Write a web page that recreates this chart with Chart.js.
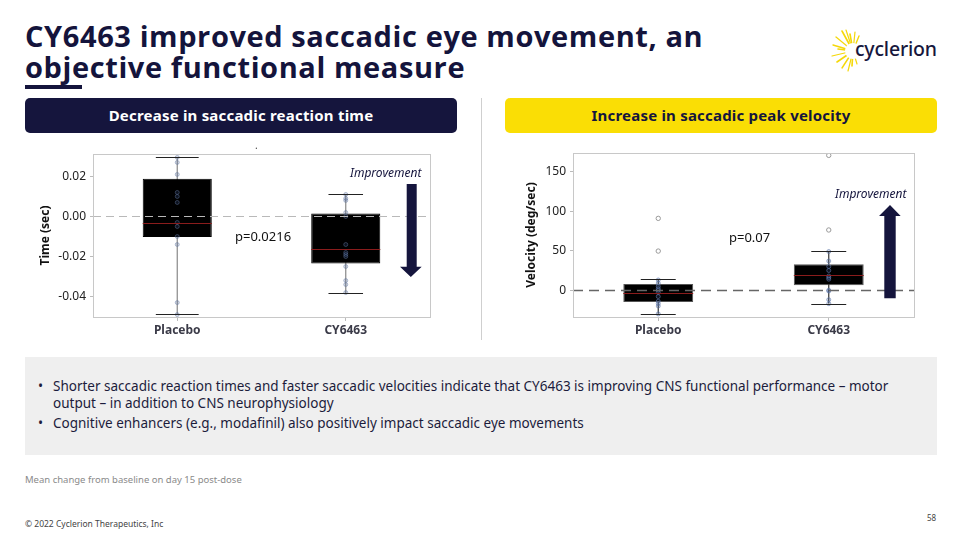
<!DOCTYPE html>
<html>
<head>
<meta charset="utf-8">
<script src="https://cdn.jsdelivr.net/npm/chart.js@4.4.0/dist/chart.umd.min.js"></script>
<style>
  body { margin: 0; width: 960px; height: 540px; background: #fff; position: relative; overflow: hidden;
         font-family: "Noto Sans", sans-serif; color: #17173d; }
  .abs { position: absolute; white-space: nowrap; }
  .title { left: 25px; top: 20px; font: 700 29px/31px "Open Sans", sans-serif; color: #14143c; letter-spacing: 0.6px; }
  .uline { left: 25px; top: 85px; width: 57px; height: 4px; background: #14143c; }
  .head { top: 98px; width: 432px; height: 35px; border-radius: 5px; font: 700 15px/35px "Noto Sans", sans-serif;
          text-align: center; letter-spacing: 0.2px; }
  .note { left: 25px; top: 357px; width: 912px; height: 98px; background: #efefef; }
  .note ul { margin: 0; padding: 0; list-style: none; position: absolute; left: 28px; top: 21px;
             font-size: 13.5px; line-height: 17px; color: #1c1c3c; }
  .note li { position: relative; margin-bottom: 3px; }
  .note li::before { content: "•"; position: absolute; left: -15px; }
  .ital { font: italic 12px "Noto Sans", sans-serif; color: #14143c; }
  .pval { font: 13px "Noto Sans", sans-serif; color: #111; }
  canvas { position: absolute; }
</style>
</head>
<body>
<div class="abs title">CY6463 improved saccadic eye movement, an<br>objective functional measure</div>
<div class="abs uline"></div>

<svg class="abs" style="left:830px;top:28px" width="110" height="46">
  <g stroke="#f5d80a" stroke-linecap="round">
    <line x1="23" y1="23" x2="12" y2="3" stroke-width="1.6"/>
    <line x1="23" y1="23" x2="16" y2="2" stroke-width="1.2"/>
    <line x1="23" y1="23" x2="20" y2="6" stroke-width="1.6"/>
    <line x1="23" y1="23" x2="25" y2="4" stroke-width="1.2"/>
    <line x1="23" y1="23" x2="29" y2="8" stroke-width="1.4"/>
    <line x1="23" y1="23" x2="6" y2="9" stroke-width="1.2"/>
    <line x1="23" y1="23" x2="3" y2="17" stroke-width="1.4"/>
    <line x1="23" y1="23" x2="8" y2="21" stroke-width="1.6"/>
    <line x1="23" y1="23" x2="2" y2="28" stroke-width="1.2"/>
    <line x1="23" y1="23" x2="7" y2="34" stroke-width="1.6"/>
    <line x1="23" y1="23" x2="12" y2="40" stroke-width="1.4"/>
    <line x1="23" y1="23" x2="18" y2="43" stroke-width="1.2"/>
    <line x1="23" y1="23" x2="22" y2="38" stroke-width="1.6"/>
    <line x1="23" y1="23" x2="27" y2="36" stroke-width="1.2"/>
  </g>
  <circle cx="23" cy="23" r="8" fill="#fff"/>
</svg>
<div class="abs" style="left:855px;top:35px;font:500 19.5px 'Noto Sans',sans-serif;color:#17173d;letter-spacing:-0.2px">cyclerion</div>

<div class="abs head" style="left:25px;background:#15153d;color:#fff">Decrease in saccadic reaction time</div>
<div class="abs head" style="left:505px;background:#fade05;color:#15153d">Increase in saccadic peak velocity</div>
<div class="abs" style="left:481px;top:98px;width:1px;height:242px;background:#cfcfcf"></div>

<canvas id="rtChart" width="440" height="205" style="left:20px;top:140px"></canvas>
<canvas id="velChart" width="440" height="205" style="left:500px;top:140px"></canvas>

<div class="abs" style="left:255px;top:138px;font-size:10px;color:#444">.</div>
<div class="abs ital" style="left:350px;top:164px">Improvement</div>
<div class="abs pval" style="left:235px;top:227px">p=0.0216</div>
<svg class="abs" style="left:398px;top:182px" width="26" height="98">
  <polygon points="8.7,2 18.7,2 18.7,84.7 23.7,84.7 12.8,95 2,84.7 8.7,84.7" fill="#15153d"/>
</svg>

<div class="abs ital" style="left:835px;top:185px">Improvement</div>
<div class="abs pval" style="left:729px;top:228px">p=0.07</div>
<svg class="abs" style="left:877px;top:203px" width="26" height="98">
  <polygon points="13,2 23.7,13 18.7,13 18.7,95.3 7.3,95.3 7.3,13 2,13" fill="#15153d"/>
</svg>

<div class="abs note">
  <ul>
    <li>Shorter saccadic reaction times and faster saccadic velocities indicate that CY6463 is improving CNS functional performance – motor<br>output – in addition to CNS neurophysiology</li>
    <li>Cognitive enhancers (e.g., modafinil) also positively impact saccadic eye movements</li>
  </ul>
</div>

<div class="abs" style="left:25px;top:473px;font-size:9.5px;color:#8a8a8a">Mean change from baseline on day 15 post-dose</div>
<div class="abs" style="left:25px;top:518px;font-size:8.5px;color:#444">© 2022 Cyclerion Therapeutics, Inc</div>
<div class="abs" style="left:927px;top:512px;font-size:8px;color:#444">58</div>

<script>
const groups = ['Placebo', 'CY6463'];

// saccadic reaction time, change from baseline (sec)
const rtQ1 = [-0.0102, -0.0235];
const rtQ3 = [0.0188, 0.0015];
const rtMedian = [-0.0032, -0.016];
const rtLow = [-0.0489, -0.0382];
const rtHigh = [0.0295, 0.011];
const rtPlacebo = [0.0295, 0.027, 0.021, 0.012, 0.010, 0.007, -0.003, -0.005, -0.010, -0.014, -0.043, -0.049];
const rtCY = [0.011, 0.009, 0.008, 0.002, 0.000, -0.014, -0.018, -0.019, -0.020, -0.025, -0.032, -0.034, -0.038];
const rtTicks = [0.02, 0, -0.02, -0.04];

// saccadic peak velocity, change from baseline (deg/sec)
const velQ1 = [-14.9, 6.4];
const velQ3 = [8.0, 33.0];
const velMedian = [-3.4, 19];
const velLow = [-29.7, -16.9];
const velHigh = [13.6, 49.2];
const velPlacebo = [13, 9, 5, 2, 0, -3, -8, -14, -17, -20, -30];
const velCY = [49, 37, 30, 25, 18, 16, 14, 0, -1, -12, -17];
const velOutPlacebo = [91, 49.6];
const velOutCY = [170.8, 76.3];
const velTicks = [0, 50, 100, 150];

// whiskers, caps, medians, zero reference and frame
const boxExtras = {
  id: 'boxExtras',
  beforeDatasetsDraw(chart, args, o) {
    const { ctx, scales: { x, y } } = chart;
    ctx.save();
    ctx.strokeStyle = o.whiskerColor;
    ctx.lineWidth = 1.2;
    o.low.forEach((lo, i) => {
      const px = x.getPixelForValue(i);
      ctx.beginPath();
      ctx.moveTo(px, y.getPixelForValue(lo));
      ctx.lineTo(px, y.getPixelForValue(o.high[i]));
      ctx.stroke();
    });
    ctx.restore();
  },
  afterDatasetsDraw(chart, args, o) {
    const { ctx, chartArea: a, scales: { y } } = chart;
    const bars = chart.getDatasetMeta(0).data;
    ctx.save();
    bars.forEach((bar, i) => {
      const half = bar.width * o.capRatio[i] / 2;
      ctx.strokeStyle = o.capColor;
      ctx.lineWidth = 1.2;
      [o.low[i], o.high[i]].forEach(v => {
        const py = Math.round(y.getPixelForValue(v)) + 0.5;
        ctx.beginPath();
        ctx.moveTo(bar.x - half, py);
        ctx.lineTo(bar.x + half, py);
        ctx.stroke();
      });
      const my = Math.round(y.getPixelForValue(o.median[i])) + 0.5;
      ctx.strokeStyle = o.medianColor;
      ctx.lineWidth = 1;
      ctx.beginPath();
      ctx.moveTo(bar.x - bar.width / 2, my);
      ctx.lineTo(bar.x + bar.width / 2, my);
      ctx.stroke();
    });
    const zy = Math.round(y.getPixelForValue(0)) + 0.5;
    ctx.setLineDash(o.zeroDash);
    ctx.strokeStyle = o.zeroColor;
    ctx.lineWidth = o.zeroWidth;
    ctx.beginPath();
    ctx.moveTo(a.left, zy);
    ctx.lineTo(a.right, zy);
    ctx.stroke();
    ctx.setLineDash([]);
    ctx.strokeStyle = o.frameColor;
    ctx.lineWidth = 1;
    ctx.strokeRect(Math.round(a.left) + 0.5, Math.round(a.top) + 0.5, Math.round(a.width), Math.round(a.height));
    ctx.restore();
  }
};

function pointSet(values, group, style) {
  return Object.assign({
    type: 'line',
    showLine: false,
    order: 1,
    data: values.map(v => ({ x: group, y: v })),
    pointRadius: 2,
    pointBorderWidth: 1
  }, style);
}

function makeBoxChart(id, s) {
  const inner = {
    pointBorderColor: s.ptBorder,
    pointBackgroundColor: 'rgba(60,90,150,0.2)'
  };
  const datasets = [
    {
      type: 'bar',
      order: 2,
      data: groups.map((g, i) => [s.q1[i], s.q3[i]]),
      backgroundColor: '#000',
      borderColor: s.boxBorder,
      borderWidth: 1,
      borderSkipped: false,
      barPercentage: 0.41,
      categoryPercentage: 1
    },
    pointSet(s.pts[0], groups[0], inner),
    pointSet(s.pts[1], groups[1], inner)
  ];
  if (s.outliers) {
    s.outliers.forEach((vals, i) => datasets.push(pointSet(vals, groups[i], {
      pointRadius: 2.2,
      pointBorderColor: '#9a9a9a',
      pointBackgroundColor: '#fff'
    })));
  }
  return new Chart(document.getElementById(id), {
    type: 'bar',
    data: { labels: groups, datasets },
    options: {
      responsive: false,
      animation: false,
      devicePixelRatio: 1,
      layout: { padding: s.padding },
      plugins: {
        legend: { display: false },
        tooltip: { enabled: false },
        boxExtras: {
          low: s.low, high: s.high, median: s.median,
          capRatio: s.capRatio,
          whiskerColor: s.whiskerColor, capColor: '#222',
          medianColor: '#8a1c1c',
          zeroColor: s.zeroColor, zeroDash: s.zeroDash, zeroWidth: s.zeroWidth,
          frameColor: '#c8c8c8'
        }
      },
      scales: {
        x: {
          grid: { offset: false, drawOnChartArea: false, drawTicks: true, tickLength: 4, color: '#bbb' },
          border: { display: false },
          ticks: { font: { family: 'Noto Sans', size: 12, weight: 'bold' }, color: '#3b3b48', padding: 2 },
          afterFit: sc => { sc.height = 28; }
        },
        y: {
          min: s.min,
          max: s.max,
          grid: { drawOnChartArea: false, drawTicks: true, tickLength: 3, color: '#bbb' },
          border: { display: false },
          afterBuildTicks: sc => { sc.ticks = s.ticks.map(v => ({ value: v })); },
          ticks: {
            font: { family: 'Noto Sans', size: 12 },
            color: '#222',
            padding: 4,
            callback: s.fmt
          },
          title: {
            display: true,
            text: s.yTitle,
            font: { family: 'Noto Sans', size: 12, weight: 'bold' },
            color: '#111',
            padding: { top: 0, bottom: 4 }
          },
          afterFit: sc => { sc.width = s.yWidth; }
        }
      }
    },
    plugins: [boxExtras]
  });
}

makeBoxChart('rtChart', {
  q1: rtQ1, q3: rtQ3, median: rtMedian, low: rtLow, high: rtHigh,
  pts: [rtPlacebo, rtCY],
  min: -0.0502, max: 0.0312, ticks: rtTicks,
  fmt: v => v.toFixed(2),
  yTitle: 'Time (sec)',
  padding: { left: 18, top: 14, right: 30, bottom: 0 },
  yWidth: 55,
  capRatio: [0.62, 0.5],
  boxBorder: '#000',
  ptBorder: 'rgba(100,120,160,0.45)',
  whiskerColor: '#888',
  zeroColor: '#b9b9b9', zeroDash: [8, 5], zeroWidth: 1.2
});

makeBoxChart('velChart', {
  q1: velQ1, q3: velQ3, median: velMedian, low: velLow, high: velHigh,
  pts: [velPlacebo, velCY],
  outliers: [velOutPlacebo, velOutCY],
  min: -33.9, max: 173.8, ticks: velTicks,
  fmt: v => String(v),
  yTitle: 'Velocity (deg/sec)',
  padding: { left: 24, top: 13, right: 26, bottom: 0 },
  yWidth: 49,
  capRatio: [0.5, 0.5],
  boxBorder: '#555',
  ptBorder: 'rgba(95,120,170,0.6)',
  whiskerColor: '#333',
  zeroColor: '#666', zeroDash: [10, 6], zeroWidth: 1.5
});
</script>
</body>
</html>
